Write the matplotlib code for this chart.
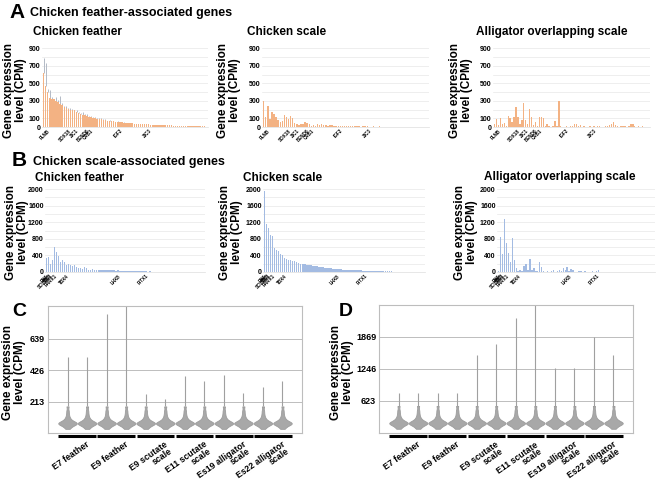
import numpy as np
import matplotlib
matplotlib.use('Agg')
import matplotlib.pyplot as plt
from matplotlib.transforms import blended_transform_factory

plt.rcParams['font.family'] = ['Liberation Sans', 'DejaVu Sans']
plt.rcParams['font.weight'] = 'bold'

# ---- panel A data (same gene order in all three plots) ----
a_feather = [620, 470, 400, 330, 320, 315, 300, 290, 260, 250,
             225, 215, 205, 200, 195, 190, 170, 160, 150, 140,
             135, 125, 120, 112, 105, 100, 95, 90, 86, 82,
             78, 74, 70, 67, 64, 61, 58, 55, 52, 50,
             48, 46, 44, 42, 40, 38, 36, 34, 33, 32,
             30, 29, 28, 27, 26, 25, 24, 23, 22, 21,
             20, 19, 18, 17, 16, 15, 14, 13, 12, 11,
             10, 10, 9, 9, 8, 8, 7, 7, 6, 5]
a_feather_err = [170, 260, 30, 90, 20, 10, 40, 15, 100, 20,
                 15, 30, 10, 20, 15, 10, 20, 15, 10, 30,
                 10, 25, 5, 15, 10, 20, 5, 10, 15, 5,
                 10, 0, 8, 0, 5, 0, 5, 0, 0, 10,
                 0, 0, 0, 0, 0, 0, 0, 0, 0, 0,
                 0, 0, 0, 0, 0, 0, 0, 0, 0, 0,
                 0, 0, 0, 0, 0, 0, 0, 0, 0, 0,
                 0, 0, 0, 0, 0, 0, 0, 0, 0, 0]
a_scale = [300, 120, 240, 90, 175, 150, 120, 80, 60, 70,
           140, 120, 90, 125, 100, 45, 30, 20, 40, 35,
           55, 50, 30, 15, 20, 10, 35, 25, 30, 20,
           25, 15, 20, 18, 12, 15, 10, 14, 12, 10,
           8, 12, 10, 6, 8, 10, 6, 5, 8, 12,
           6, 5, 4, 8, 5, 4, 6, 3, 5, 4,
           3, 5, 4, 3, 2, 4, 3, 2, 3, 2,
           4, 3, 2, 1, 3, 2, 2, 1, 2, 1]
a_alligator = [40, 90, 20, 100, 30, 50, 15, 130, 100, 60,
               110, 230, 120, 40, 85, 270, 80, 30, 210, 110,
               20, 55, 15, 120, 110, 100, 10, 30, 8, 5,
               10, 70, 15, 300, 10, 5, 3, 8, 5, 10,
               15, 40, 30, 10, 25, 5, 8, 3, 5, 10,
               4, 6, 3, 8, 12, 5, 3, 10, 15, 20,
               30, 60, 20, 8, 5, 10, 15, 8, 5, 12,
               30, 40, 10, 5, 8, 3, 10, 5, 3, 2]
a_gene_pos = [2, 12, 16, 21, 23, 37, 51]
a_gene_names = ['FLNB', 'SOX18', 'ZIC1', 'BEND6', 'CRB1', 'IGF2', 'ZIC3']
a_yticks = [0, 100, 200, 300, 400, 500, 600, 700, 800, 900]
a_ylabels = ['0', '100', '', '300', '', '500', '', '700', '', '900']

# ---- panel B data ----
b_feather = [330, 350, 200, 300, 600, 480, 380, 250, 280, 240,
             180, 200, 170, 150, 160, 120, 100, 90, 80, 110,
             100, 60, 50, 70, 60, 50, 40, 55, 60, 50,
             45, 40, 50, 45, 40, 35, 40, 30, 35, 30,
             25, 30, 25, 20, 25, 20, 18, 22, 15, 20,
             15, 12, 14, 10, 12, 10, 8, 10, 8, 6,
             8, 6, 5, 6, 5, 4, 5, 4, 3, 4,
             3, 3, 2, 3, 2, 2, 2, 1, 2, 1]
b_scale = [1950, 1150, 1050, 900, 870, 580, 540, 500, 430, 400,
           340, 320, 300, 285, 275, 260, 240, 220, 205, 195,
           185, 180, 172, 165, 155, 145, 135, 128, 120, 112,
           105, 100, 95, 88, 84, 80, 75, 70, 65, 60,
           55, 52, 50, 48, 46, 44, 42, 40, 38, 35,
           32, 30, 28, 26, 24, 22, 21, 20, 19, 18,
           16, 15, 14, 13, 12, 11, 10, 9, 9, 8,
           7, 7, 6, 5, 5, 4, 4, 3, 3, 2]
b_alligator = [20, 850, 430, 1280, 700, 450, 250, 820, 300, 100,
               20, 50, 30, 150, 200, 40, 310, 60, 100, 30,
               20, 250, 130, 20, 10, 15, 5, 20, 60, 10,
               20, 60, 30, 90, 40, 110, 20, 70, 40, 10,
               5, 30, 15, 10, 20, 5, 10, 8, 15, 5,
               15, 40, 10, 5, 8, 3, 5, 10, 4, 3,
               6, 2, 8, 3, 5, 10, 4, 2, 3, 5,
               2, 8, 3, 2, 4, 2, 3, 1, 2, 1]
b_gene_pos = [0, 1, 2, 4, 10, 36, 50]
b_gene_names = ['EN1', 'CBS', 'SCUBE1', 'PRRX1', 'TBX4', 'LHX8', 'PITX1']
b_yticks = [0, 200, 400, 600, 800, 1000, 1200, 1400, 1600, 1800, 2000]
b_ylabels = ['0', '', '400', '', '800', '', '1200', '', '1600', '', '2000']

# ---- panels C / D violin data ----
groups = ['E7 feather', 'E9 feather', 'E9 scutate\nscale', 'E11 scutate\nscale',
          'Es19 alligator\nscale', 'Es22 alligator\nscale']
# typical per-sample distribution (bulk) plus the max value of each sample
c_bulk = [28, 38, 46, 52, 56, 60, 62, 64, 66, 68, 70, 73, 77, 82, 89, 98, 110, 128, 150, 180]
c_max = [515, 515, 806, 900, 263, 229, 389, 355, 394, 270, 309, 355]
c_ticks = [213, 426, 639]
d_bulk = [82, 111, 134, 152, 164, 175, 181, 187, 193, 199, 205, 213, 225, 240, 260, 286, 321, 374, 438, 526]
d_max = [774, 774, 774, 774, 1508, 1738, 2230, 2600, 1259, 1259, 1869, 1508]
d_ticks = [623, 1246, 1869]

W, H = 660, 486
fig = plt.figure(figsize=(6.6, 4.86), dpi=100)


def box(x0, y0, x1, y1):
    # pixel box (top-left origin) -> figure fraction rect
    return [x0 / W, 1 - y1 / H, (x1 - x0) / W, (y1 - y0) / H]


def ftext(x, y, s, **kw):
    fig.text(x / W, 1 - y / H, s, **kw)


def bar_panel(rect, vals, color, ymax, yticks, ylabels, gpos, gnames, err=None):
    ax = fig.add_axes(rect)
    x = np.arange(len(vals))
    ax.bar(x, vals, width=0.7, color=color, zorder=3)
    if err is not None:
        v = np.array(vals)
        ax.vlines(x, v, v + np.array(err), color='#b3bac6', lw=0.7, zorder=2)
    ax.set_xlim(-0.8, len(vals) - 0.2)
    ax.set_ylim(0, ymax)
    ax.set_yticks(yticks)
    ax.set_yticklabels(ylabels, fontsize=5, fontweight='bold')
    ax.set_xticks(gpos)
    ax.set_xticklabels(gnames, fontsize=3.3, fontweight='bold', rotation=45,
                       ha='right', rotation_mode='anchor')
    ax.tick_params(length=0, pad=1)
    ax.grid(axis='y', color='#e8e8e8', lw=0.5, zorder=0)
    for s in ['left', 'right', 'top']:
        ax.spines[s].set_visible(False)
    ax.spines['bottom'].set_color('#dddddd')
    ax.spines['bottom'].set_linewidth(0.5)
    return ax


orange = '#f3b283'
blue = '#a3bbe2'

bar_panel(box(42, 44, 208, 127), a_feather, orange, 950, a_yticks, a_ylabels,
          a_gene_pos, a_gene_names, err=a_feather_err)
bar_panel(box(262, 44, 429, 127), a_scale, orange, 950, a_yticks, a_ylabels,
          a_gene_pos, a_gene_names)
bar_panel(box(493, 44, 650, 127), a_alligator, orange, 950, a_yticks, a_ylabels,
          a_gene_pos, a_gene_names)

bar_panel(box(45, 187, 205, 272), b_feather, blue, 2050, b_yticks, b_ylabels,
          b_gene_pos, b_gene_names)
bar_panel(box(263, 187, 425, 272), b_scale, blue, 2050, b_yticks, b_ylabels,
          b_gene_pos, b_gene_names)
bar_panel(box(497, 187, 655, 272), b_alligator, blue, 2050, b_yticks, b_ylabels,
          b_gene_pos, b_gene_names)


def violin_panel(rect, bulk, maxes, ymax, ticks):
    ax = fig.add_axes(rect)
    pos = np.arange(1, len(maxes) + 1)
    # long thin tail up to each sample's maximum
    ax.vlines(pos, bulk[-1], maxes, color='#a0a0a0', lw=0.8, zorder=2)
    parts = ax.violinplot([bulk] * len(maxes), positions=pos, widths=0.95,
                          showextrema=False, bw_method=0.3)
    for b in parts['bodies']:
        b.set_facecolor('#a8a8a8')
        b.set_edgecolor('#9c9c9c')
        b.set_linewidth(0.6)
        b.set_alpha(1)
        b.set_zorder(3)
    ax.set_xlim(0, len(maxes) + 1)
    ax.set_ylim(0, ymax)
    ax.set_yticks(ticks)
    ax.set_yticklabels([str(t) for t in ticks], fontsize=6.5, fontweight='bold')
    ax.set_xticks([])
    ax.tick_params(length=0, pad=2)
    ax.grid(axis='y', color='#bdbdbd', lw=0.7)
    ax.set_axisbelow(True)
    for s in ax.spines.values():
        s.set_color('#bdbdbd')
        s.set_linewidth(0.8)
    tr = blended_transform_factory(ax.transData, ax.transAxes)
    for k, g in enumerate(groups):
        x0 = 2 * k + 1 - 0.47
        x1 = 2 * k + 2 + 0.47
        ax.plot([x0, x1], [-0.025, -0.025], color='black', lw=2.2,
                transform=tr, clip_on=False, solid_capstyle='butt')
        ax.text(2 * k + 1.5 + 0.45, -0.055, g, transform=tr, rotation=35,
                ha='right', va='top', rotation_mode='anchor', fontsize=6.3,
                fontweight='bold', linespacing=0.85)
    return ax


violin_panel(box(48, 306, 302, 433), c_bulk, c_max, 860, c_ticks)
violin_panel(box(379, 305, 633, 433), d_bulk, d_max, 2490, d_ticks)

# ---- y labels ----
ylab = 'Gene expression\nlevel (CPM)'
for (x, y) in [(15, 90), (229, 90), (461, 90), (17, 232), (231, 232), (466, 232),
               (14, 372), (342, 372)]:
    ftext(x, y, ylab, rotation=90, ha='center', va='center', fontsize=8.5,
          fontweight='bold', linespacing=0.95)

# ---- titles ----
for (x, y, s) in [(33, 32, 'Chicken feather'), (247, 32, 'Chicken scale'),
                  (552, 32, 'Alligator overlapping scale'),
                  (35, 178, 'Chicken feather'), (243, 178, 'Chicken scale'),
                  (560, 177, 'Alligator overlapping scale')]:
    ha = 'center' if s.startswith('Alligator') else 'left'
    ftext(x, y, s, ha=ha, va='center', fontsize=8.5, fontweight='bold')

ftext(9, 13, 'A', fontsize=15, fontweight='bold', va='center')
ftext(30, 13, 'Chicken feather-associated genes', fontsize=9, fontweight='bold', va='center')
ftext(12, 161, 'B', fontsize=15, fontweight='bold', va='center')
ftext(33, 162, 'Chicken scale-associated genes', fontsize=9, fontweight='bold', va='center')
ftext(12, 311, 'C', fontsize=14, fontweight='bold', va='center')
ftext(339, 311, 'D', fontsize=14, fontweight='bold', va='center')

fig.savefig('out.png', dpi=100)
